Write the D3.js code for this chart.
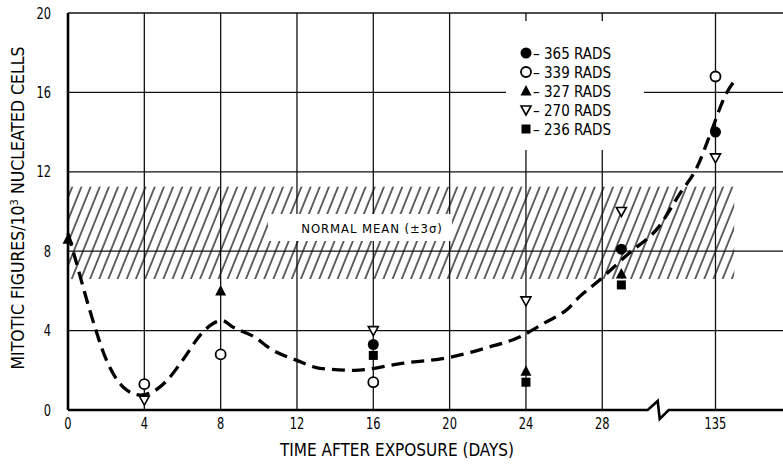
<!DOCTYPE html>
<html>
<head>
<meta charset="utf-8">
<script src="https://cdn.jsdelivr.net/npm/d3@7"></script>
<style>
  body { margin: 0; background: #fff; }
  text { font-family: "DejaVu Sans", sans-serif; font-stretch: condensed; fill: #000; }
</style>
</head>
<body>
<div id="chart"></div>
<script>
// data
var xTicks = [0, 4, 8, 12, 16, 20, 24, 28, 135];
var yTicks = [0, 4, 8, 12, 16, 20];
var seriesNames = ["365 RADS", "339 RADS", "327 RADS", "270 RADS", "236 RADS"];
var rad365 = [[16, 3.3], [29, 8.1], [135, 14.0]];
var rad339 = [[4, 1.3], [8, 2.8], [16, 1.4], [135, 16.8]];
var rad327 = [[0, 8.6], [8, 6.0], [24, 1.95], [29, 6.85]];
var rad270 = [[4, 0.5], [16, 4.0], [24, 5.5], [29, 10.0], [135, 12.7]];
var rad236 = [[16, 2.75], [24, 1.4], [29, 6.3]];
var fitCurve = [[0, 8.9], [0.3, 7.9], [1.15, 5.0], [2.0, 2.55], [2.9, 1.15], [3.8, 0.75], [4.3, 0.85],
  [5.2, 1.5], [6.0, 2.5], [7.0, 3.85], [7.8, 4.45], [8.1, 4.5], [8.6, 4.2], [9.9, 3.6], [10.5, 3.15],
  [12, 2.5], [13.2, 2.1], [15.0, 2.0], [17.5, 2.35], [20, 2.65], [22, 3.15], [23.6, 3.65], [25, 4.4],
  [26.2, 5.1], [26.8, 5.7], [27.8, 6.5], [29.4, 7.9], [131.95, 9.2], [133.1, 10.9], [134, 12.2],
  [134.8, 14.1], [135.5, 15.8], [136.1, 16.7]];
var normalBand = [6.6, 11.25];
var bandDays = [0, 136];
var breakDays = [30.8, 131.9];

var width = 783, height = 464;

var svg = d3.select("#chart")
  .append("svg")
    .attr("width", width)
    .attr("height", height);

// broken x axis: linear up to the break, then jumps to ~day 132
var x = d3.scaleLinear()
  .domain([0, breakDays[0], breakDays[1], 140])
  .range([68, 655.7, 657.4, 809.2]);

var y = d3.scaleLinear()
  .domain([0, 20])
  .range([410, 13]);

var defs = svg.append("defs");
defs.append("pattern")
  .attr("id", "hatch")
  .attr("patternUnits", "userSpaceOnUse")
  .attr("width", 8.5)
  .attr("height", 8)
  .attr("patternTransform", "rotate(22)")
  .append("line")
    .attr("x1", 1).attr("y1", -1)
    .attr("x2", 1).attr("y2", 9)
    .attr("stroke", "#000")
    .attr("stroke-width", 1.2);

// normal mean band
svg.append("rect")
  .attr("x", x(bandDays[0]))
  .attr("y", y(normalBand[1]))
  .attr("width", x(bandDays[1]) - x(bandDays[0]))
  .attr("height", y(normalBand[0]) - y(normalBand[1]))
  .attr("fill", "url(#hatch)");

var grid = svg.append("g")
  .attr("stroke", "#111")
  .attr("stroke-width", 1.3);

// horizontal grid (16 is cut by the legend)
yTicks.filter(function(d){ return d > 0; }).forEach(function(d){
  if (d == 16) {
    grid.append("line").attr("x1", 68).attr("x2", 506).attr("y1", y(d)).attr("y2", y(d));
    grid.append("line").attr("x1", 644).attr("x2", width).attr("y1", y(d)).attr("y2", y(d));
  } else {
    grid.append("line").attr("x1", 68).attr("x2", width).attr("y1", y(d)).attr("y2", y(d))
      .attr("stroke-width", d == 20 ? 1.6 : 1.3);
  }
});

// vertical grid (24 and 28 interrupted behind legend)
xTicks.filter(function(d){ return d > 0; }).forEach(function(d){
  if (d == 24 || d == 28) {
    grid.append("line").attr("x1", x(d)).attr("x2", x(d)).attr("y1", y(20)).attr("y2", y(20) + 8);
    grid.append("line").attr("x1", x(d)).attr("x2", x(d)).attr("y1", 150).attr("y2", y(0));
  } else {
    grid.append("line").attr("x1", x(d)).attr("x2", x(d)).attr("y1", y(20)).attr("y2", y(0));
  }
});

// white box with band label
svg.append("rect")
  .attr("x", 268).attr("y", 214)
  .attr("width", 184).attr("height", 27)
  .attr("fill", "#fff");
svg.append("text")
  .attr("x", 372).attr("y", 233)
  .attr("text-anchor", "middle")
  .attr("font-size", "13px")
  .attr("letter-spacing", "0.9px")
  .text("NORMAL MEAN (\u00B13\u03C3)");

// axes
svg.append("line")
  .attr("x1", 68).attr("x2", 68).attr("y1", y(20)).attr("y2", y(0))
  .attr("stroke", "#000").attr("stroke-width", 2.6);

var bx = x(breakDays[0]);
svg.append("path")
  .attr("d", "M68," + y(0) + "H" + (bx - 8) +
    "L" + (bx + 2) + "," + (y(0) - 9) +
    "L" + (bx + 4) + "," + (y(0) + 9) +
    "L" + (bx + 13) + "," + y(0) + "H" + width)
  .attr("fill", "none")
  .attr("stroke", "#000")
  .attr("stroke-width", 2.6);

// narrow tick labels
svg.append("g").selectAll("text")
  .data(yTicks)
  .enter()
  .append("text")
    .attr("transform", function(d){ return "translate(51," + (y(d) + 5.5) + ")scale(0.82,1)"; })
    .attr("text-anchor", "end")
    .attr("font-size", "15.5px")
    .text(function(d){ return d; });

svg.append("g").selectAll("text")
  .data(xTicks)
  .enter()
  .append("text")
    .attr("transform", function(d){ return "translate(" + x(d) + ",429)scale(0.82,1)"; })
    .attr("text-anchor", "middle")
    .attr("font-size", "15.5px")
    .text(function(d){ return d; });

svg.append("text")
  .attr("x", 397).attr("y", 456)
  .attr("text-anchor", "middle")
  .attr("font-size", "17px")
  .text("TIME AFTER EXPOSURE (DAYS)");

var yl = svg.append("text")
  .attr("transform", "translate(24,208)rotate(-90)")
  .attr("text-anchor", "middle")
  .attr("font-size", "17.5px");
yl.append("tspan").text("MITOTIC FIGURES/10");
yl.append("tspan").attr("dy", -6).attr("font-size", "11px").text("3");
yl.append("tspan").attr("dy", 6).text(" NUCLEATED CELLS");

// fitted dashed curve
var line = d3.line()
  .x(function(d){ return x(d[0]); })
  .y(function(d){ return y(d[1]); })
  .curve(d3.curveMonotoneX);

svg.append("path")
  .datum(fitCurve)
  .attr("d", line)
  .attr("fill", "none")
  .attr("stroke", "#000")
  .attr("stroke-width", 3.3)
  .attr("stroke-dasharray", "13,7");

// markers
function drawMarker(g, kind, cx, cy) {
  if (kind == "dot") {
    g.append("circle").attr("cx", cx).attr("cy", cy).attr("r", 5.5).attr("fill", "#000");
  } else if (kind == "ring") {
    g.append("circle").attr("cx", cx).attr("cy", cy).attr("r", 5).attr("fill", "#fff")
      .attr("stroke", "#000").attr("stroke-width", 1.8);
  } else if (kind == "up") {
    g.append("path").attr("d", "M" + cx + "," + (cy - 6) + "L" + (cx + 5.5) + "," + (cy + 4.5) + "L" + (cx - 5.5) + "," + (cy + 4.5) + "Z")
      .attr("fill", "#000");
  } else if (kind == "down") {
    g.append("path").attr("d", "M" + (cx - 5) + "," + (cy - 4) + "L" + (cx + 5) + "," + (cy - 4) + "L" + cx + "," + (cy + 5) + "Z")
      .attr("fill", "#fff").attr("stroke", "#000").attr("stroke-width", 1.6);
  } else {
    g.append("rect").attr("x", cx - 4.5).attr("y", cy - 4.5).attr("width", 9).attr("height", 9).attr("fill", "#000");
  }
}

var kinds = ["dot", "ring", "up", "down", "square"];
var allSeries = [rad365, rad339, rad327, rad270, rad236];
var marks = svg.append("g");
allSeries.forEach(function(s, i){
  s.forEach(function(p){
    drawMarker(marks, kinds[i], x(p[0]), y(p[1]));
  });
});

// legend
var legend = svg.append("g");
seriesNames.forEach(function(name, i){
  var ly = 53 + i * 19;
  drawMarker(legend, kinds[i], 526, ly);
  legend.append("text")
    .attr("x", 533).attr("y", ly + 5.5)
    .attr("font-size", "15px")
    .text("\u2013 " + name);
});
</script>
</body>
</html>
